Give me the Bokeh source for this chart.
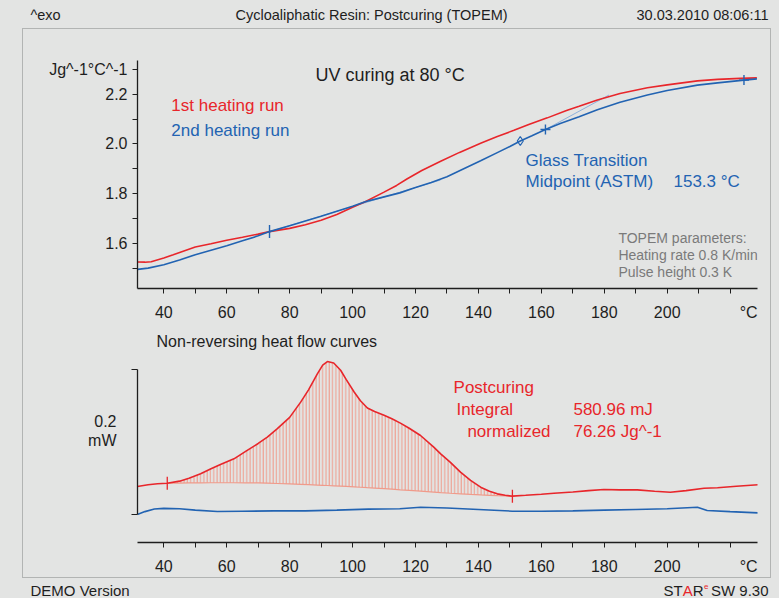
from bokeh.plotting import figure
from bokeh.models import Range1d, FixedTicker, Label, Spacer, PrintfTickFormatter
from bokeh.layouts import column, row
from bokeh.embed import file_html
from bokeh.resources import INLINE

# ---------------- data ----------------
# reversing heat capacity, J/(g K), 1st and 2nd heating run
cp1_temp = [31.7, 34, 36, 40, 43, 50, 55, 60, 65, 70, 73.6, 80, 85, 90, 95, 100, 104, 110, 114,
            117.4, 122, 128, 134, 140.7, 146, 151.3, 156, 161.9, 168, 172, 177.8, 185, 193.7,
            200, 209.6, 216, 223.3, 228.5]
cp1_val = [1.525, 1.524, 1.526, 1.541, 1.554, 1.585, 1.598, 1.612, 1.624, 1.637, 1.647, 1.660,
           1.675, 1.693, 1.716, 1.745, 1.767, 1.806, 1.833, 1.860, 1.893, 1.930, 1.966, 2.003,
           2.030, 2.055, 2.078, 2.105, 2.135, 2.152, 2.177, 2.203, 2.226, 2.238, 2.254, 2.260,
           2.264, 2.266]
cp2_temp = [31.7, 35, 40, 45, 50, 55, 60, 65, 70, 73.6, 80, 85, 90, 95, 100, 104, 110, 115, 120,
            125, 130, 135, 140.7, 146, 150, 153.3, 157, 161.3, 166, 172, 177.8, 185, 193.7, 200,
            209.6, 216, 224.4, 228.5]
cp2_val = [1.495, 1.500, 1.514, 1.533, 1.554, 1.572, 1.590, 1.610, 1.630, 1.647, 1.671, 1.690,
           1.709, 1.729, 1.749, 1.767, 1.787, 1.803, 1.825, 1.845, 1.868, 1.898, 1.932, 1.965,
           1.990, 2.012, 2.033, 2.058, 2.082, 2.110, 2.138, 2.168, 2.197, 2.215, 2.237, 2.246,
           2.257, 2.262]

# glass transition evaluation (2nd run)
tg_mid = [153.3]
tg_mid_val = [2.012]
tg_limits = [73.6, 161.3, 224.4]
tg_limits_val = [1.647, 2.058, 2.257]
tg_tangent_lo_t = [73.6, 128.0]
tg_tangent_lo_v = [1.647, 1.855]
tg_tangent_hi_t = [161.3, 181.5]
tg_tangent_hi_v = [2.058, 2.197]

# non-reversing heat flow, mW
nr1_temp = [31.6, 35, 38, 41.1, 45, 48, 51.7, 55, 58, 62.3, 66, 70, 72.9, 76, 80, 83.5, 86, 88.8,
            90.5, 92, 94, 96.2, 98, 100.5, 102.5, 104.7, 107, 110, 112.5, 115.2, 118, 121.6, 125.8,
            128, 131.1, 134.3, 137.5, 140.7, 143.5, 146, 148.5, 150.8, 155, 160, 164, 170, 175,
            179.9, 185, 190.5, 196, 201, 206, 211.7, 216, 222, 229]
nr1_val = [0.0386, 0.041, 0.0425, 0.0432, 0.046, 0.050, 0.0561, 0.063, 0.069, 0.0768, 0.087, 0.098,
           0.1067, 0.118, 0.134, 0.155, 0.172, 0.194, 0.206, 0.211, 0.209, 0.199, 0.186, 0.169,
           0.157, 0.147, 0.142, 0.137, 0.132, 0.126, 0.119, 0.109, 0.093, 0.0837, 0.072, 0.0584,
           0.047, 0.0377, 0.032, 0.0285, 0.0265, 0.0253, 0.0265, 0.028, 0.0294, 0.031, 0.033,
           0.0345, 0.034, 0.034, 0.032, 0.0308, 0.033, 0.0363, 0.037, 0.039, 0.041]
# integration limits (indices into nr1_temp: 41.1 .. 150.8 °C) and baseline under the peak
peak_start, peak_end = 3, 41
nr1_baseline = [0.0432, 0.0434, 0.0436, 0.0437, 0.0438, 0.0438, 0.0438, 0.0437, 0.0435, 0.0432,
                0.0428, 0.0422, 0.0416, 0.0411, 0.0406, 0.0403, 0.0400, 0.0396, 0.0391, 0.0387,
                0.0381, 0.0376, 0.0370, 0.0364, 0.0356, 0.0349, 0.0341, 0.0333, 0.0322, 0.0309,
                0.0302, 0.0293, 0.0285, 0.0277, 0.0270, 0.0265, 0.0260, 0.0256, 0.0253]
nr2_temp = [31.6, 34, 37, 40, 45, 50, 57, 65, 75, 85, 95, 105, 115, 121.6, 130, 140, 150.8, 160,
            170, 180, 190, 200, 209.6, 212.7, 220, 229]
nr2_val = [0.0, 0.004, 0.0075, 0.0085, 0.008, 0.006, 0.0041, 0.0045, 0.005, 0.005, 0.006, 0.0075,
           0.008, 0.010, 0.009, 0.007, 0.0046, 0.0045, 0.005, 0.006, 0.007, 0.008, 0.010, 0.0055,
           0.004, 0.0023]

# axis ticks and labels
x_labels = [40, 60, 80, 100, 120, 140, 160, 180, 200]
x_unit_pos = 225.9
x_ticks = [40, 50, 60, 70, 80, 90, 100, 110, 120, 130, 140, 150, 160, 170, 180, 190, 200, 210, 220]
y_major = [1.6, 1.8, 2.0, 2.2, 2.3]
y_minor = [1.5, 1.7, 1.9, 2.1]
scale_bar = [0.0, 0.2]
scale_label_pos = [0.102, 0.128]

# ---------------- style ----------------
BG = "#e3e4e3"
RED = "#e8262b"
BLUE = "#2263b2"
LIGHT_BLUE = "#8db1dc"
HATCH = "#f09a8a"
INK = "#1e1e1e"
FONT = "Liberation Sans"
XR = (31.64, 228.7)


def style_axis(ax, out=5):
    ax.axis_line_color = INK
    ax.axis_line_width = 1.3
    ax.major_tick_line_color = INK
    ax.minor_tick_line_color = INK
    ax.major_tick_in = 0
    ax.minor_tick_in = 0
    ax.minor_tick_out = 5
    ax.major_tick_out = out
    ax.major_label_text_font = FONT
    ax.major_label_text_font_size = "16px"
    ax.major_label_text_color = INK


def style_xaxis(p):
    ax = p.xaxis[0]
    # labels sit on (invisible) major ticks, visible ticks are the minor ones
    ax.ticker = FixedTicker(ticks=x_labels + [x_unit_pos], minor_ticks=x_ticks)
    ax.major_label_overrides = {x_unit_pos: "°C"}
    style_axis(ax, out=0)
    ax.major_label_standoff = 10


def label(p, x, y, text, color=INK, size="17px", align="left"):
    p.add_layout(Label(x=x, y=y, text=text, text_color=color, text_font=FONT,
                       text_font_size=size, text_align=align, text_baseline="middle"))


# ---------------- upper plot: reversing cp ----------------
up = figure(width=747, height=294, x_range=Range1d(*XR), y_range=Range1d(1.418, 2.336),
            output_backend="svg", toolbar_location=None, title=None,
            min_border_left=114, min_border_right=13, min_border_top=31, min_border_bottom=32,
            background_fill_color=BG, border_fill_color=BG, outline_line_color=None)
up.grid.visible = False
style_xaxis(up)
yax = up.yaxis[0]
yax.ticker = FixedTicker(ticks=y_major, minor_ticks=y_minor)
yax.formatter = PrintfTickFormatter(format="%.1f")
yax.major_label_overrides = {2.3: "Jg^-1°C^-1"}
style_axis(yax)
yax.major_label_standoff = 5

up.line(tg_tangent_lo_t, tg_tangent_lo_v, line_color=LIGHT_BLUE, line_width=1)
up.line(tg_tangent_hi_t, tg_tangent_hi_v, line_color=LIGHT_BLUE, line_width=1)
up.line(cp1_temp, cp1_val, line_color=RED, line_width=1.6)
up.line(cp2_temp, cp2_val, line_color=BLUE, line_width=1.6)
up.scatter(tg_mid, tg_mid_val, marker="diamond", size=9, fill_color=None,
           line_color=BLUE, line_width=1.2)
up.scatter(tg_limits[1:], tg_limits_val[1:], marker="cross", size=10, line_color=BLUE,
           line_width=1.4)
up.scatter(tg_limits[:1], tg_limits_val[:1], marker="dash", angle=1.5708, size=13,
           line_color=BLUE, line_width=1.4)

label(up, 88.2, 2.277, "UV curing at 80 °C", size="18px")
label(up, 42.4, 2.153, "1st heating run", color=RED)
label(up, 42.4, 2.054, "2nd heating run", color=BLUE)
label(up, 155.0, 1.935, "Glass Transition", color=BLUE)
label(up, 155.0, 1.847, "Midpoint (ASTM)", color=BLUE)
label(up, 202.0, 1.847, "153.3 °C", color=BLUE)
label(up, 184.5, 1.621, "TOPEM parameters:", color="#7a7a7a", size="14px")
label(up, 184.5, 1.553, "Heating rate 0.8 K/min", color="#7a7a7a", size="14px")
label(up, 184.5, 1.486, "Pulse height 0.3 K", color="#7a7a7a", size="14px")

# ---------------- lower plot: non-reversing heat flow ----------------
lo = figure(width=747, height=254, x_range=Range1d(*XR), y_range=Range1d(-0.0386, 0.2538),
            output_backend="svg", toolbar_location=None, title=None,
            min_border_left=114, min_border_right=13, min_border_top=7, min_border_bottom=35,
            background_fill_color=BG, border_fill_color=BG, outline_line_color=None)
lo.grid.visible = False
style_xaxis(lo)
# heat-flow scale bar drawn as a bounded y axis
lax = lo.yaxis[0]
lax.bounds = tuple(scale_bar)
lax.ticker = FixedTicker(ticks=scale_label_pos, minor_ticks=scale_bar)
lax.major_label_overrides = {scale_label_pos[0]: "mW", scale_label_pos[1]: "0.2"}
style_axis(lax, out=0)
lax.minor_tick_out = 6
lax.major_label_standoff = 15

px = nr1_temp[peak_start:peak_end + 1]
lo.varea(x=px, y1=nr1_baseline, y2=nr1_val[peak_start:peak_end + 1], fill_alpha=0,
         hatch_pattern="vertical_line", hatch_color=HATCH, hatch_scale=3.3, hatch_weight=1)
lo.line(px, nr1_baseline, line_color=HATCH, line_width=1.2)
lo.line(nr1_temp, nr1_val, line_color=RED, line_width=1.6)
lo.line(nr2_temp, nr2_val, line_color=BLUE, line_width=1.6)
lo.scatter([nr1_temp[peak_start], nr1_temp[peak_end]], [nr1_val[peak_start], nr1_val[peak_end]],
           marker="dash", angle=1.5708, size=13, line_color=RED, line_width=1.3)

label(lo, 37.7, 0.2386, "Non-reversing heat flow curves", size="16px")
label(lo, 132.1, 0.1756, "Postcuring", color=RED)
label(lo, 133.0, 0.1448, "Integral", color=RED)
label(lo, 170.2, 0.1448, "580.96 mJ", color=RED)
label(lo, 136.5, 0.1145, "normalized", color=RED)
label(lo, 170.2, 0.1145, "76.26 Jg^-1", color=RED)


# ---------------- header and footer strips ----------------
def strip(h, y0):
    s = figure(width=779, height=h, x_range=Range1d(0, 779), y_range=Range1d(y0 + h, y0),
               output_backend="svg", toolbar_location=None, title=None,
               x_axis_type=None, y_axis_type=None, min_border=0,
               background_fill_color=BG, border_fill_color=BG, outline_line_color=None)
    s.grid.visible = False
    return s


head = strip(28, 0)
label(head, 30, 14, "^exo", size="14.5px")
label(head, 371, 14, "Cycloaliphatic Resin: Postcuring (TOPEM)", size="14.5px", align="center")
label(head, 768, 14, "30.03.2010 08:06:11", size="14.5px", align="right")

foot = strip(20, 578)
label(foot, 30, 590, "DEMO Version", size="15px")
label(foot, 663, 590, "ST", size="15px")
label(foot, 682.2, 590, "A", size="15px", color=RED)
label(foot, 692.2, 590, "R", size="15px")
label(foot, 703.5, 586, "e", size="8px", color=RED)
label(foot, 768, 590, "SW 9.30", size="15px", align="right")

framed = column(up, lo, spacing=0, styles={"border": "1px solid #b2b4b3"})
middle = row(Spacer(width=22, height=550), framed, Spacer(width=8, height=550), spacing=0)
page = column(head, middle, foot, spacing=0, styles={"background-color": BG})

open("out.html", "w").write(file_html(page, INLINE))
